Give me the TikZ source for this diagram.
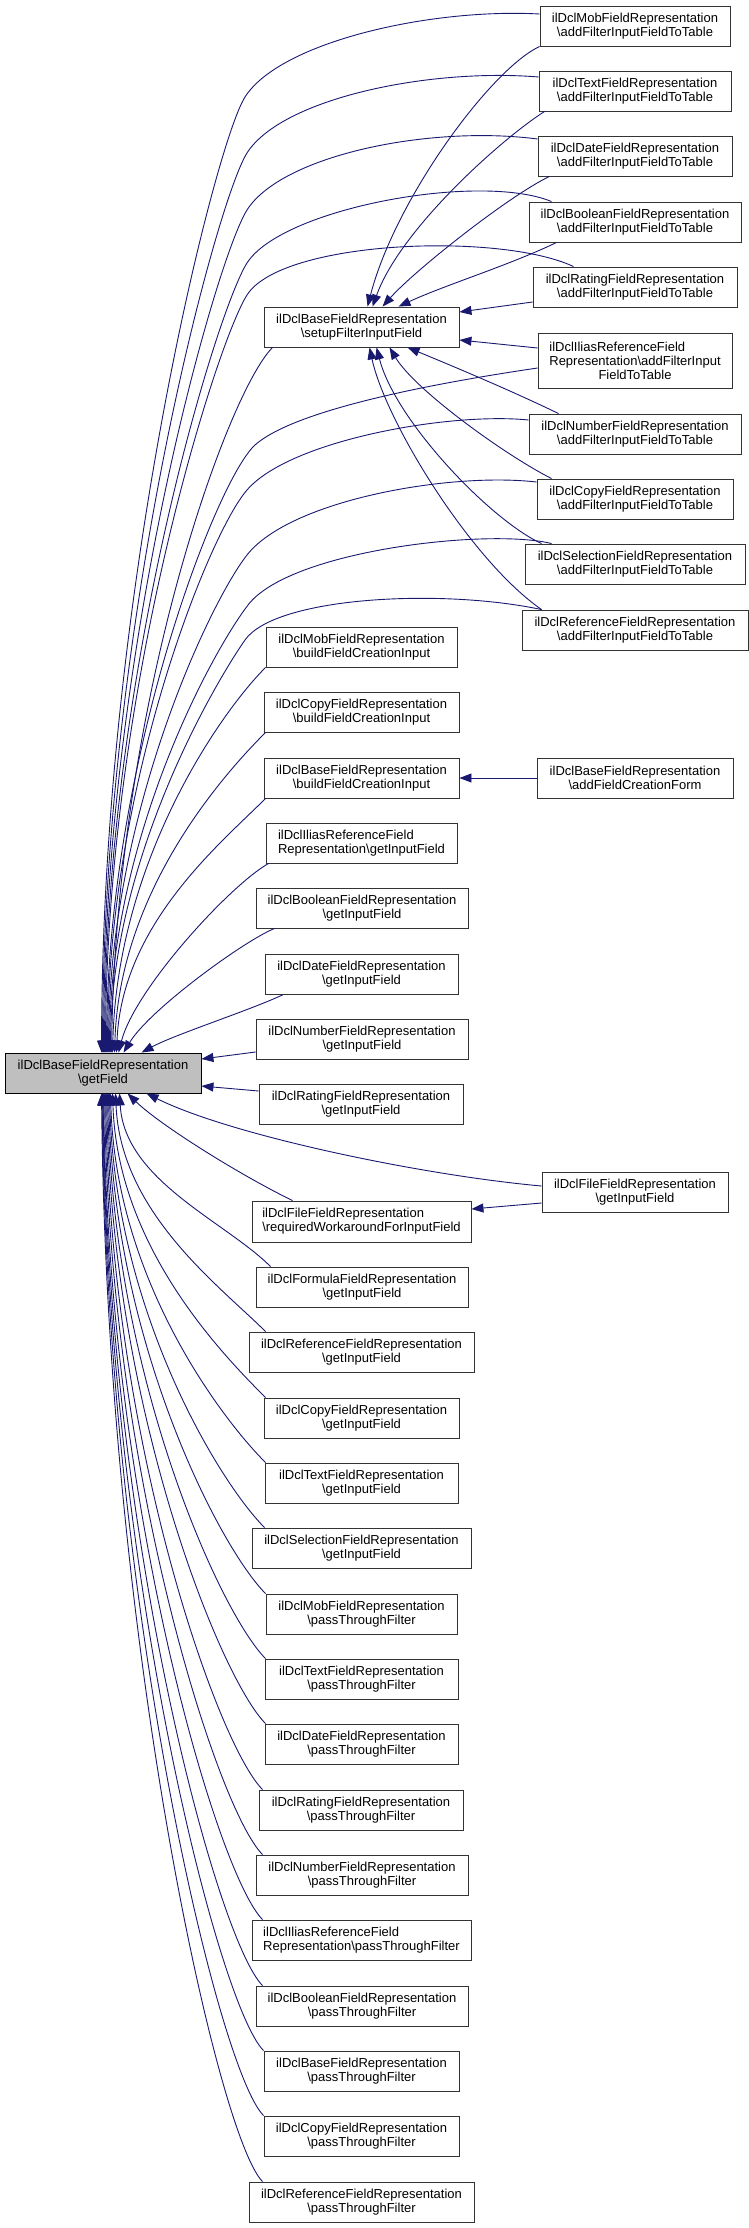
\documentclass[tikz,border=0pt]{standalone}
\usepackage{fontspec}
\setmainfont{Liberation Sans}
\usetikzlibrary{arrows.meta}
\definecolor{edgeblue}{HTML}{191970}
\definecolor{focusgray}{HTML}{BFBFBF}
\newcommand{\bs}{\textbackslash}
\begin{document}
\begin{tikzpicture}[x=1pt,y=-1pt,
  box/.style={draw=black!80, line width=0.9pt, fill=white, inner xsep=2pt, inner ysep=1pt,
    minimum height=40pt, align=center, font={\fontsize{13}{14}\selectfont}},
  leftbox/.style={box, align=left},
  focus/.style={box, fill=focusgray, draw=black},
  edge/.style={draw=edgeblue, line width=0.9pt, -{Triangle[length=12pt,width=9pt]}}]
\useasboundingbox (0,0) rectangle (749,2228);

% ---------- right column ----------
\node[box, minimum width=190pt] (ma) at (635,26) {ilDclMobFieldRepresentation\\\bs addFilterInputFieldToTable};
\node[box, minimum width=192pt] (ta) at (635,91) {ilDclTextFieldRepresentation\\\bs addFilterInputFieldToTable};
\node[box, minimum width=194pt] (da) at (635,156) {ilDclDateFieldRepresentation\\\bs addFilterInputFieldToTable};
\node[box, minimum width=212pt] (ba) at (635,222) {ilDclBooleanFieldRepresentation\\\bs addFilterInputFieldToTable};
\node[box, minimum width=204pt] (ra) at (635,287) {ilDclRatingFieldRepresentation\\\bs addFilterInputFieldToTable};
\node[box, minimum width=194pt, minimum height=55pt] (ia) at (635,360.5) {\rlap{ilDclIliasReferenceField}\phantom{Representation\bs addFilterInput}\\Representation\bs addFilterInput\\FieldToTable};
\node[box, minimum width=212pt] (na) at (635,434) {ilDclNumberFieldRepresentation\\\bs addFilterInputFieldToTable};
\node[box, minimum width=196pt] (ca) at (635,499) {ilDclCopyFieldRepresentation\\\bs addFilterInputFieldToTable};
\node[box, minimum width=220pt] (sa) at (635,564) {ilDclSelectionFieldRepresentation\\\bs addFilterInputFieldToTable};
\node[box, minimum width=226pt] (rfa) at (635,630) {ilDclReferenceFieldRepresentation\\\bs addFilterInputFieldToTable};
\node[box, minimum width=196pt] (bcf) at (635,778) {ilDclBaseFieldRepresentation\\\bs addFieldCreationForm};
\node[box, minimum width=186pt] (fg) at (635,1192) {ilDclFileFieldRepresentation\\\bs getInputField};

% ---------- middle column ----------
\node[box, minimum width=195pt] (su) at (361.5,327) {ilDclBaseFieldRepresentation\\\bs setupFilterInputField};
\node[box, minimum width=191pt] (mb) at (361.5,647) {ilDclMobFieldRepresentation\\\bs buildFieldCreationInput};
\node[box, minimum width=195pt] (cb) at (361.5,712) {ilDclCopyFieldRepresentation\\\bs buildFieldCreationInput};
\node[box, minimum width=195pt] (bb) at (361.5,778) {ilDclBaseFieldRepresentation\\\bs buildFieldCreationInput};
\node[leftbox, minimum width=191pt] (ig) at (361.5,843) {ilDclIliasReferenceField\\Representation\bs getInputField};
\node[box, minimum width=212pt] (bg) at (362,908) {ilDclBooleanFieldRepresentation\\\bs getInputField};
\node[box, minimum width=193pt] (dg) at (361.5,974) {ilDclDateFieldRepresentation\\\bs getInputField};
\node[box, minimum width=212pt] (ng) at (362,1039) {ilDclNumberFieldRepresentation\\\bs getInputField};
\node[box, minimum width=204pt] (rg) at (361,1104) {ilDclRatingFieldRepresentation\\\bs getInputField};
\node[leftbox, minimum width=219pt, minimum height=41pt] (fr) at (361.5,1221.5) {ilDclFileFieldRepresentation\\\bs requiredWorkaroundForInputField};
\node[box, minimum width=212pt] (fo) at (362,1287) {ilDclFormulaFieldRepresentation\\\bs getInputField};
\node[box, minimum width=225pt] (rg2) at (361.5,1352) {ilDclReferenceFieldRepresentation\\\bs getInputField};
\node[box, minimum width=195pt] (cg) at (361.5,1418) {ilDclCopyFieldRepresentation\\\bs getInputField};
\node[box, minimum width=193pt] (tg) at (361.5,1483) {ilDclTextFieldRepresentation\\\bs getInputField};
\node[box, minimum width=219pt] (sg) at (361.5,1548) {ilDclSelectionFieldRepresentation\\\bs getInputField};
\node[box, minimum width=191pt] (mp) at (361.5,1614) {ilDclMobFieldRepresentation\\\bs passThroughFilter};
\node[box, minimum width=193pt] (tp) at (361.5,1679) {ilDclTextFieldRepresentation\\\bs passThroughFilter};
\node[box, minimum width=193pt] (dp) at (361.5,1744) {ilDclDateFieldRepresentation\\\bs passThroughFilter};
\node[box, minimum width=204pt] (rp) at (361,1810) {ilDclRatingFieldRepresentation\\\bs passThroughFilter};
\node[box, minimum width=212pt] (np) at (362,1875) {ilDclNumberFieldRepresentation\\\bs passThroughFilter};
\node[leftbox, minimum width=219pt] (ip) at (361.5,1940) {ilDclIliasReferenceField\\Representation\bs passThroughFilter};
\node[box, minimum width=212pt] (bp) at (362,2006) {ilDclBooleanFieldRepresentation\\\bs passThroughFilter};
\node[box, minimum width=195pt] (basep) at (361.5,2071) {ilDclBaseFieldRepresentation\\\bs passThroughFilter};
\node[box, minimum width=195pt] (cp) at (361.5,2136) {ilDclCopyFieldRepresentation\\\bs passThroughFilter};
\node[box, minimum width=225pt] (rp2) at (361.5,2202) {ilDclReferenceFieldRepresentation\\\bs passThroughFilter};

% ---------- focus node ----------
\node[focus, minimum width=196pt] (gf) at (103,1073) {ilDclBaseFieldRepresentation\\\bs getField};

% ---------- edges into setupFilterInputField ----------
\draw[edge] (ma.south west) .. controls (490,70) and (395,200) .. ([xshift=104pt]su.north west);
\draw[edge] ([xshift=6pt]ta.south west) .. controls (500,140) and (400,230) .. ([xshift=109pt]su.north west);
\draw[edge] ([xshift=12pt]da.south west) .. controls (510,195) and (415,270) .. ([xshift=119pt]su.north west);
\draw[edge] ([xshift=28pt]ba.south west) .. controls (510,265) and (445,285) .. ([xshift=135pt]su.north west);
\draw[edge] ([yshift=-15pt]ra.west) -- ([yshift=15pt]su.east);
\draw[edge] ([yshift=12.5pt]ia.west) -- ([yshift=-13pt]su.east);
\draw[edge] ([xshift=30pt]na.north west) .. controls (510,390) and (450,365) .. ([xshift=144pt]su.south west);
\draw[edge] ([xshift=15pt]ca.north west) .. controls (505,455) and (415,390) .. ([xshift=126pt]su.south west);
\draw[edge] ([xshift=17pt]sa.north west) .. controls (490,520) and (395,420) .. ([xshift=113pt]su.south west);
\draw[edge] ([xshift=20pt]rfa.north west) .. controls (470,560) and (385,420) .. ([xshift=106pt]su.south west);

% ---------- long edges from right column into getField ----------
\draw[edge] ([yshift=12pt]ma.west) .. controls (430,8) and (280,42) .. (245,97) .. controls (215,144) and (102,594) .. ([xshift=97pt]gf.north west);
\draw[edge] ([yshift=14pt]ta.west) .. controls (430,68) and (282,98) .. (247,153) .. controls (217,200) and (103,621) .. ([xshift=98pt]gf.north west);
\draw[edge] ([yshift=17pt]da.west) .. controls (430,125) and (282,155) .. (247,210) .. controls (217,257) and (104,648) .. ([xshift=99pt]gf.north west);
\draw[edge] ([xshift=23pt]ba.north west) .. controls (480,172) and (282,208) .. (247,263) .. controls (217,310) and (105,674) .. ([xshift=100pt]gf.north west);
\draw[edge] ([xshift=41pt]ra.north west) .. controls (500,232) and (282,240) .. (247,295) .. controls (217,342) and (106,689) .. ([xshift=101pt]gf.north west);
\draw[edge] ([yshift=-7.5pt]ia.west) .. controls (470,378) and (300,405) .. (255,445) .. controls (217,479) and (107,761) .. ([xshift=102pt]gf.north west);
\draw[edge] ([yshift=14pt]na.west) .. controls (450,412) and (290,440) .. (247,490) .. controls (210,532) and (108,783) .. ([xshift=103pt]gf.north west);
\draw[edge] ([yshift=17pt]ca.west) .. controls (450,472) and (290,500) .. (247,555) .. controls (210,602) and (109,814) .. ([xshift=104pt]gf.north west);
\draw[edge] ([xshift=27pt]sa.north west) .. controls (490,528) and (290,550) .. (248,605) .. controls (212,652) and (110,838) .. ([xshift=105pt]gf.north west);
\draw[edge] ([xshift=20pt]rfa.north west) .. controls (440,588) and (275,597) .. (245,640) .. controls (219,677) and (111,855) .. ([xshift=106pt]gf.north west);

% ---------- middle column above getField ----------
\draw[edge] ([xshift=9pt]su.south west) .. controls +(-45,45) and +(5,-353) .. ([xshift=107pt]gf.north west);
\draw[edge] (mb.south west) .. controls +(-45,45) and +(5,-193) .. ([xshift=108pt]gf.north west);
\draw[edge] ([xshift=2pt]cb.south west) .. controls +(-45,45) and +(5,-160) .. ([xshift=110pt]gf.north west);
\draw[edge] ([xshift=2pt]bb.south west) .. controls +(-45,45) and +(5,-128) .. ([xshift=112pt]gf.north west);
\draw[edge] ([xshift=3pt]ig.south west) .. controls +(-39,22) and +(16,-63) .. ([xshift=114pt]gf.north west);
\draw[edge] ([xshift=19pt]bg.south west) .. controls +(-30,12) and +(26,-43) .. ([xshift=119pt]gf.north west);
\draw[edge] ([xshift=19pt]dg.south west) .. controls +(-34,16) and +(33,-18) .. ([xshift=137pt]gf.north west);
\draw[edge] ([yshift=-13pt]ng.west) -- ([yshift=14pt]gf.east);
\draw[edge] ([yshift=13pt]rg.west) -- ([yshift=-13pt]gf.east);
\draw[edge] (bcf.west) -- (bb.east);

% ---------- file field ----------
\draw[edge] ([yshift=6pt]fg.west) .. controls (420,1175) and (230,1135) .. ([xshift=142pt]gf.south west);
\draw[edge] ([yshift=-11pt]fg.west) -- ([yshift=12.5pt]fr.east);
\draw[edge] ([xshift=41pt]fr.north west) .. controls (240,1175) and (160,1125) .. ([xshift=123pt]gf.south west);

% ---------- middle column below getField ----------
\draw[edge] ([xshift=15pt]fo.north west) .. controls +(-45,-45) and +(5,87) .. ([xshift=115pt]gf.south west);
\draw[edge] ([xshift=17pt]rg2.north west) .. controls +(-45,-45) and +(5,119.5) .. ([xshift=111pt]gf.south west);
\draw[edge] ([xshift=2pt]cg.north west) .. controls +(-45,-45) and +(5,152.5) .. ([xshift=108pt]gf.south west);
\draw[edge] ([xshift=1pt]tg.north west) .. controls +(-45,-45) and +(5,185) .. ([xshift=106pt]gf.south west);
\draw[edge] ([xshift=13pt]sg.north west) .. controls +(-45,-45) and +(5,217.5) .. ([xshift=105pt]gf.south west);
\draw[edge] (mp.north west) .. controls +(-45,-45) and +(5,250.5) .. ([xshift=104pt]gf.south west);
\draw[edge] ([xshift=1pt]tp.north west) .. controls +(-45,-45) and +(5,283) .. ([xshift=103pt]gf.south west);
\draw[edge] ([xshift=1pt]dp.north west) .. controls +(-45,-45) and +(5,315.5) .. ([xshift=102pt]gf.south west);
\draw[edge] ([xshift=4pt]rp.north west) .. controls +(-45,-45) and +(5,348.5) .. ([xshift=101pt]gf.south west);
\draw[edge] ([xshift=7pt]np.north west) .. controls +(-45,-45) and +(5,381) .. ([xshift=100pt]gf.south west);
\draw[edge] ([xshift=11pt]ip.north west) .. controls +(-45,-45) and +(5,413.5) .. ([xshift=99pt]gf.south west);
\draw[edge] ([xshift=7pt]bp.north west) .. controls +(-45,-45) and +(5,446.5) .. ([xshift=98.5pt]gf.south west);
\draw[edge] (basep.north west) .. controls +(-45,-45) and +(5,479) .. ([xshift=98pt]gf.south west);
\draw[edge] (cp.north west) .. controls +(-45,-45) and +(5,511.5) .. ([xshift=97.5pt]gf.south west);
\draw[edge] ([xshift=14pt]rp2.north west) .. controls +(-45,-45) and +(5,544.5) .. ([xshift=97pt]gf.south west);
\end{tikzpicture}
\end{document}
